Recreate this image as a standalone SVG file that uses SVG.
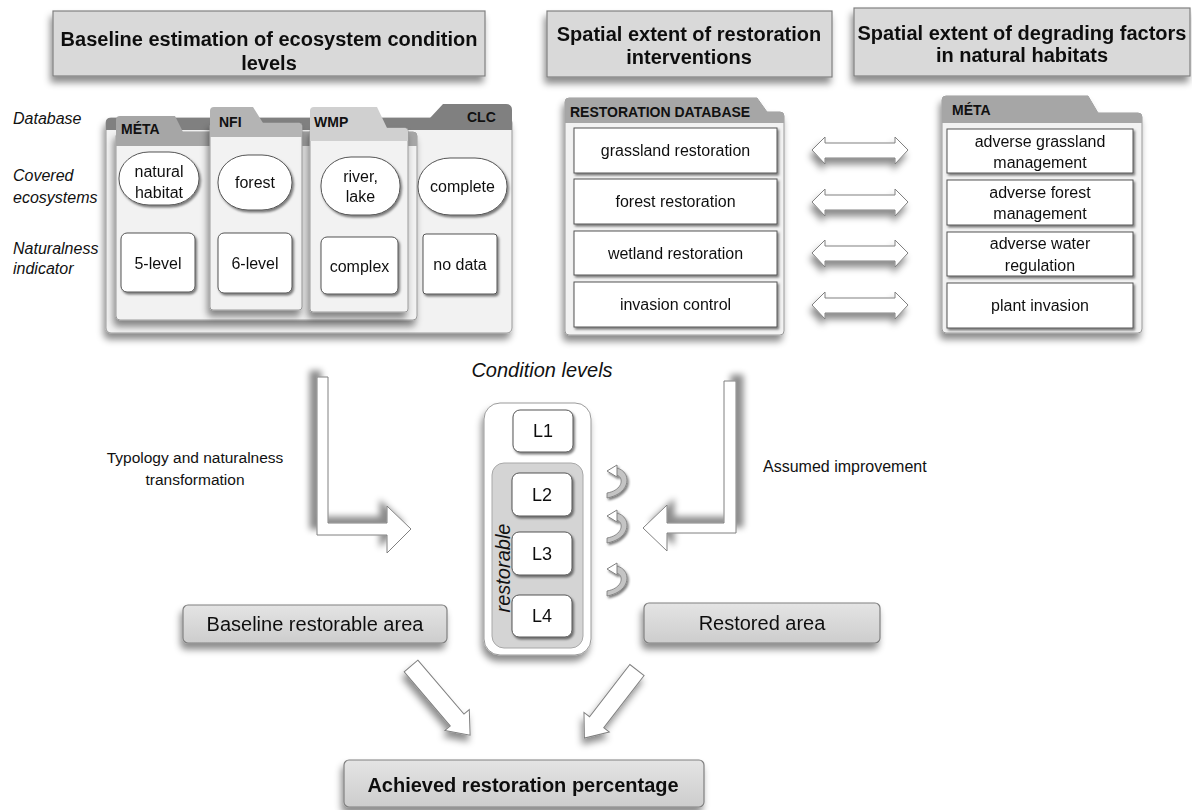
<svg xmlns="http://www.w3.org/2000/svg" width="1192" height="810" viewBox="0 0 1192 810">
<defs>
<filter id="sh" x="-20%" y="-20%" width="140%" height="160%"><feDropShadow dx="-2" dy="6" stdDeviation="3.5" flood-color="#000" flood-opacity="0.45"/></filter>
<filter id="shs" x="-20%" y="-20%" width="140%" height="150%"><feDropShadow dx="1.5" dy="2" stdDeviation="1.2" flood-color="#000" flood-opacity="0.5"/></filter>
<filter id="shL" x="-50%" y="-20%" width="200%" height="140%"><feDropShadow dx="-7" dy="-6" stdDeviation="3" flood-color="#000" flood-opacity="0.45"/></filter>
<filter id="shR" x="-50%" y="-20%" width="200%" height="140%"><feDropShadow dx="7" dy="-6" stdDeviation="3" flood-color="#000" flood-opacity="0.45"/></filter>
<linearGradient id="gbox" x1="0" y1="0" x2="0" y2="1"><stop offset="0" stop-color="#e4e4e4"/><stop offset="1" stop-color="#cdcdcd"/></linearGradient>
</defs>
<style>
text{font-family:"Liberation Sans",Arial,sans-serif;fill:#111}
.hd{font-size:20px;font-weight:bold;text-anchor:middle}
.lbl{font-size:16px;font-style:italic}
.t16{font-size:16px;text-anchor:middle}
.tab{font-size:14px;font-weight:bold}
.hbox{fill:#d9d9d9;stroke:#808080;stroke-width:1.2}
.gbox{fill:url(#gbox);stroke:#808080;stroke-width:1.2}
.wbox{fill:#fff;stroke:#555;stroke-width:1}
.body{fill:#f2f2f2;stroke:#9a9a9a;stroke-width:1}
.arr{fill:#fff;stroke:#808080;stroke-width:1}
.curl{fill:#c4c4c4;stroke:#7a7a7a;stroke-width:0.8}
</style>

<g id="header-baseline" filter="url(#sh)">
<rect class="hbox" x="53" y="11" width="432" height="65"/>
<text class="hd" x="269" y="46" font-size="19.5">Baseline estimation of ecosystem condition</text>
<text class="hd" x="269" y="70">levels</text>
</g>
<g id="header-restoration" filter="url(#sh)">
<rect class="hbox" x="547" y="11" width="285" height="66"/>
<text class="hd" x="689" y="41">Spatial extent of restoration</text>
<text class="hd" x="689" y="64">interventions</text>
</g>
<g id="header-degrading" filter="url(#sh)">
<rect class="hbox" x="854" y="8" width="336" height="68"/>
<text class="hd" x="1022" y="40">Spatial extent of degrading factors</text>
<text class="hd" x="1022" y="62">in natural habitats</text>
</g>

<g id="row-labels">
<text class="lbl" x="13" y="124">Database</text>
<text class="lbl" x="13" y="181">Covered</text>
<text class="lbl" x="13" y="203">ecosystems</text>
<text class="lbl" x="13" y="254">Naturalness</text>
<text class="lbl" x="13" y="274">indicator</text>
</g>

<g id="folder-clc">
<rect class="body" x="106" y="118" width="406" height="215" rx="5" filter="url(#sh)"/>
<path d="M106,130 L106,122 Q106,118 110,118 L430,118 L443,104 L506,104 Q512,104 512,110 L512,130 Z" fill="#808080"/>
<text class="tab" x="467" y="122">CLC</text>
</g>
<g id="folder-meta-left">
<rect class="body" x="116" y="132" width="301" height="188" rx="4" fill="#f5f5f5" filter="url(#sh)"/>
<path d="M116,146 L116,120 Q116,116 120,116 L175,116 L183,132 L413,132 Q417,132 417,136 L417,146 Z" fill="#a6a6a6"/>
<text class="tab" x="121" y="134">MÉTA</text>
</g>
<g id="folder-nfi">
<rect class="body" x="210" y="123" width="92" height="187" rx="3" fill="#f5f5f5" filter="url(#sh)"/>
<path d="M210,137 L210,111 Q210,107 214,107 L253,107 L263,123 L298,123 Q302,123 302,127 L302,137 Z" fill="#b4b4b4"/>
<text class="tab" x="219" y="127">NFI</text>
</g>
<g id="folder-wmp">
<rect class="body" x="310" y="128" width="98" height="184" rx="3" fill="#f5f5f5" filter="url(#sh)"/>
<path d="M310,141 L310,111 Q310,107 314,107 L377,107 L387,128 L404,128 Q408,128 408,132 L408,141 Z" fill="#d0d0d0"/>
<text class="tab" x="314" y="127" font-size="15px">WMP</text>
</g>

<g id="eco-natural-habitat" filter="url(#shs)">
<rect class="wbox" x="119" y="152" width="80" height="53" rx="30" ry="26"/>
<text class="t16" x="159" y="177">natural</text>
<text class="t16" x="159" y="198">habitat</text>
</g>
<g id="eco-forest" filter="url(#shs)">
<rect class="wbox" x="218" y="155" width="74" height="55" rx="30" ry="27"/>
<text class="t16" x="255" y="188">forest</text>
</g>
<g id="eco-river-lake" filter="url(#shs)">
<rect class="wbox" x="321" y="157" width="79" height="58" rx="30" ry="28"/>
<text class="t16" x="360.5" y="182">river,</text>
<text class="t16" x="360.5" y="202">lake</text>
</g>
<g id="eco-complete" filter="url(#shs)">
<rect class="wbox" x="418" y="158" width="89" height="57" rx="32" ry="28"/>
<text class="t16" x="462.5" y="192">complete</text>
</g>
<g id="nat-5level" filter="url(#shs)">
<rect class="wbox" x="121" y="233" width="74" height="59" rx="6"/>
<text class="t16" x="158" y="269">5-level</text>
</g>
<g id="nat-6level" filter="url(#shs)">
<rect class="wbox" x="218" y="233" width="74" height="60" rx="6"/>
<text class="t16" x="255" y="269">6-level</text>
</g>
<g id="nat-complex" filter="url(#shs)">
<rect class="wbox" x="321" y="237" width="77" height="57" rx="6"/>
<text class="t16" x="359.5" y="272">complex</text>
</g>
<g id="nat-nodata" filter="url(#shs)">
<rect class="wbox" x="423" y="234" width="74" height="60" rx="3"/>
<text class="t16" x="460" y="270">no data</text>
</g>

<g id="folder-restoration-db">
<path d="M565,331 L565,102 Q565,98 569,98 L757,98 L767,112 L780,112 Q784,112 784,116 L784,331 Q784,335 780,335 L569,335 Q565,335 565,331 Z" class="body" filter="url(#sh)"/>
<path d="M565,123 L565,102 Q565,98 569,98 L757,98 L767,112 L780,112 Q784,112 784,116 L784,123 Z" fill="#a6a6a6"/>
<text class="tab" x="570" y="117">RESTORATION DATABASE</text>
</g>
<g id="res-grassland" filter="url(#shs)">
<rect class="wbox" x="574" y="128" width="203" height="45"/>
<text class="t16" x="675.5" y="156">grassland restoration</text>
</g>
<g id="res-forest" filter="url(#shs)">
<rect class="wbox" x="574" y="179" width="203" height="45"/>
<text class="t16" x="675.5" y="207">forest restoration</text>
</g>
<g id="res-wetland" filter="url(#shs)">
<rect class="wbox" x="574" y="231" width="203" height="44"/>
<text class="t16" x="675.5" y="258.5">wetland restoration</text>
</g>
<g id="res-invasion" filter="url(#shs)">
<rect class="wbox" x="574" y="282" width="203" height="45"/>
<text class="t16" x="675.5" y="310">invasion control</text>
</g>

<g id="folder-meta-right">
<path d="M942,329 L942,100 Q942,96 946,96 L1088,96 L1098,113 L1138,113 Q1142,113 1142,117 L1142,329 Q1142,333 1138,333 L946,333 Q942,333 942,329 Z" class="body" filter="url(#sh)"/>
<path d="M942,123 L942,100 Q942,96 946,96 L1088,96 L1098,113 L1138,113 Q1142,113 1142,117 L1142,123 Z" fill="#a6a6a6"/>
<text class="tab" x="952" y="115">MÉTA</text>
</g>
<g id="deg-grassland" filter="url(#shs)">
<rect class="wbox" x="947" y="129" width="186" height="44"/>
<text class="t16" x="1040" y="147">adverse grassland</text>
<text class="t16" x="1040" y="168">management</text>
</g>
<g id="deg-forest" filter="url(#shs)">
<rect class="wbox" x="947" y="180" width="186" height="45"/>
<text class="t16" x="1040" y="197.5">adverse forest</text>
<text class="t16" x="1040" y="219">management</text>
</g>
<g id="deg-water" filter="url(#shs)">
<rect class="wbox" x="947" y="232" width="186" height="44"/>
<text class="t16" x="1040" y="249">adverse water</text>
<text class="t16" x="1040" y="270.5">regulation</text>
</g>
<g id="deg-invasion" filter="url(#shs)">
<rect class="wbox" x="947" y="283" width="186" height="45"/>
<text class="t16" x="1040" y="311">plant invasion</text>
</g>

<g id="condition-levels">
<text x="542" y="377" font-size="20px" font-style="italic" text-anchor="middle">Condition levels</text>
<rect x="484" y="403" width="107" height="252" rx="16" fill="#fff" stroke="#9a9a9a" filter="url(#sh)"/>
<g id="level-L1" filter="url(#shs)">
<rect class="wbox" x="513" y="410" width="60" height="42" rx="7"/>
<text x="543" y="437" font-size="18px" text-anchor="middle">L1</text>
</g>
<g id="restorable">
<rect x="492" y="463" width="91" height="185" rx="12" fill="#d4d4d4" stroke="#a8a8a8"/>
<text transform="translate(510,568) rotate(-90)" font-size="20px" font-style="italic" text-anchor="middle">restorable</text>
</g>
<g id="level-L2" filter="url(#shs)">
<rect class="wbox" x="512" y="473" width="60" height="43" rx="7"/>
<text x="542" y="501" font-size="18px" text-anchor="middle">L2</text>
</g>
<g id="level-L3" filter="url(#shs)">
<rect class="wbox" x="512" y="532" width="60" height="43" rx="7"/>
<text x="542" y="560" font-size="18px" text-anchor="middle">L3</text>
</g>
<g id="level-L4" filter="url(#shs)">
<rect class="wbox" x="512" y="595" width="60" height="42" rx="7"/>
<text x="542" y="622" font-size="18px" text-anchor="middle">L4</text>
</g>
</g>

<g id="baseline-restorable-area" filter="url(#sh)">
<rect class="gbox" x="183" y="605" width="264" height="38" rx="5"/>
<text x="315" y="631" font-size="20px" text-anchor="middle">Baseline restorable area</text>
</g>
<g id="restored-area" filter="url(#sh)">
<rect class="gbox" x="644" y="603" width="236" height="40" rx="5"/>
<text x="762" y="630" font-size="20px" text-anchor="middle">Restored area</text>
</g>
<g id="achieved-restoration" filter="url(#sh)">
<rect class="gbox" x="344" y="760" width="360" height="47" rx="5"/>
<text x="523" y="792" font-size="20px" font-weight="bold" text-anchor="middle">Achieved restoration percentage</text>
</g>

<g id="text-labels">
<text x="195" y="463" font-size="15.5px" text-anchor="middle">Typology and naturalness</text>
<text x="195" y="485" font-size="15.5px" text-anchor="middle">transformation</text>
<text x="763" y="472" font-size="16px">Assumed improvement</text>
</g>

<g id="connectors">
<polygon class="arr" filter="url(#shL)" points="317,377 328,377 328,523 387,523 387,506 411,529 387,553 387,535 317,535"/>
<polygon class="arr" filter="url(#shR)" points="724,381 736,381 736,533 667,533 667,551 643,528 667,505 667,523 724,523"/>
<g filter="url(#sh)">
<polygon class="arr" points="812,150 825,137 825,143 895,143 895,137 908,150 895,164 895,158 825,158 825,164"/>
<polygon class="arr" points="812,202 825,189 825,195 895,195 895,189 908,202 895,216 895,210 825,210 825,216"/>
<polygon class="arr" points="812,253 825,240 825,246 895,246 895,240 908,253 895,267 895,261 825,261 825,267"/>
<polygon class="arr" points="812,305 825,292 825,298 895,298 895,292 908,305 895,319 895,313 825,313 825,319"/>
</g>
<g filter="url(#sh)">
<polygon class="arr" transform="translate(411,666) rotate(49.5)" points="0,-9 71,-9 71,-16 91,0 71,16 71,9 0,9"/>
<polygon class="arr" transform="translate(637,670) rotate(127.7)" points="0,-9 66,-9 66,-16 86,0 66,16 66,9 0,9"/>
</g>
<g id="improvement-curls" filter="url(#shs)">
<g transform="translate(607,465)">
<path class="curl" d="M9,3 C24,5 26,28 0,33 L0,28 C17,25 17,11 9,10 Z"/>
<polygon class="arr" points="0,6 10,0 10,12"/>
</g>
<g transform="translate(607,510)">
<path class="curl" d="M9,3 C24,5 26,28 0,33 L0,28 C17,25 17,11 9,10 Z"/>
<polygon class="arr" points="0,6 10,0 10,12"/>
</g>
<g transform="translate(607,563)">
<path class="curl" d="M9,3 C24,5 26,28 0,33 L0,28 C17,25 17,11 9,10 Z"/>
<polygon class="arr" points="0,6 10,0 10,12"/>
</g>
</g>
</g>
</svg>
